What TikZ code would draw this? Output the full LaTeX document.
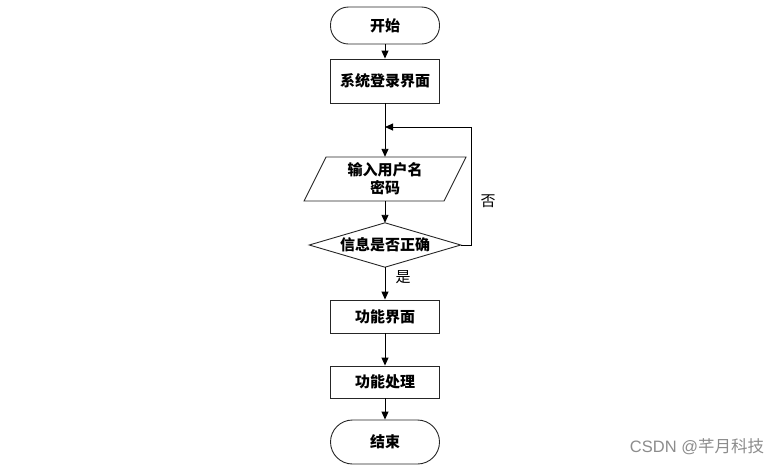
\documentclass[tikz,border=0pt]{standalone}
\usepackage{fontspec}
\setmainfont{Noto Sans CJK SC}
\usetikzlibrary{arrows.meta}
\begin{document}
\begin{tikzpicture}[x=1pt,y=-1pt,
  base/.style={font=\fontsize{15}{18}\selectfont\bfseries, align=center, inner sep=0pt},
  term/.style={base, draw=black!85, line width=0.9pt, minimum width=109pt, rounded corners=#1},
  procbox/.style={base, draw=black!85, line width=0.9pt, minimum width=109pt},
  plain/.style={base, draw=none},
  shp/.style={draw=black!85, line width=0.9pt},
  conn/.style={draw=black, line width=0.9pt, -{Triangle[width=7pt,length=8pt]}},
  lbl/.style={font=\fontsize{15}{18}\selectfont, inner sep=0pt}
]
\useasboundingbox (0,0) rectangle (781,467);
\node[term=18pt, minimum height=37pt] (start) at (385,25.5) {开始};
\node[procbox, minimum height=44pt] (login) at (385,81) {系统登录界面};
\node[plain, minimum width=140pt, minimum height=44pt] (inp) at (385,179) {输入用户名\\密码};
\draw[shp] (304,201) -- (326,157) -- (466,157) -- (444,201) -- cycle;
\node[plain, minimum width=151pt, minimum height=44pt] (dec) at (385,245) {信息是否正确};
\draw[shp] (dec.west) -- (dec.north) -- (dec.east) -- (dec.south) -- cycle;
\node[procbox, minimum height=33pt] (func) at (385,316.5) {功能界面};
\node[procbox, minimum height=32pt] (proc) at (385,382) {功能处理};
\node[term=22pt, minimum height=44pt] (stop) at (385,442) {结束};
\coordinate (join) at (385,127);
\coordinate (cr1) at (471,245);
\coordinate (cr2) at (471,127);
\draw[conn] (start) -- (login);
\draw[conn] (login) -- (inp.north);
\draw[conn] (inp.south) -- (dec.north);
\draw[conn] (dec.east) -- (cr1) -- (cr2) -- (join);
\draw[conn] (dec.south) -- (func);
\draw[conn] (func) -- (proc);
\draw[conn] (proc) -- (stop);
\node[lbl] (no) at (488,201) {否};
\node[lbl] (yes) at (403,277) {是};
\node[font=\fontsize{16.5}{18}\selectfont, text=black!45, inner sep=0pt] (wm) at (697,447) {\fontspec{Liberation Sans}CSDN @\fontspec{Noto Sans CJK SC}芊月科技};
\end{tikzpicture}
\end{document}
